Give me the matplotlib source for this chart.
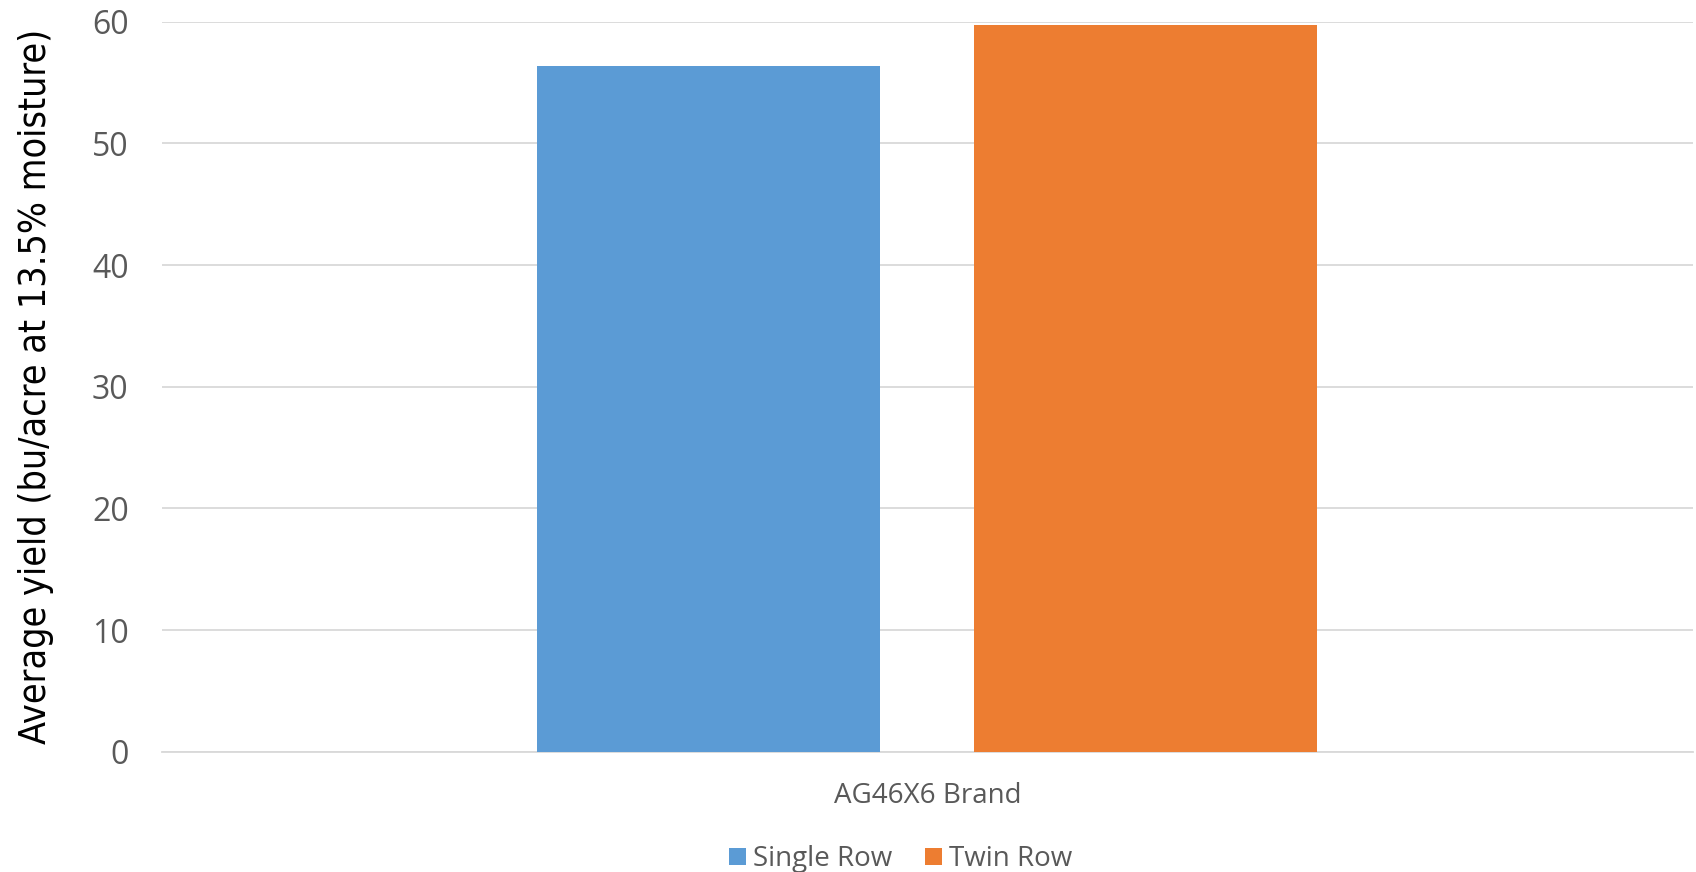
import matplotlib.pyplot as plt
import numpy as np

# yield data, one category with two planting patterns
categories = ["AG46X6 Brand"]
series_names = ["Single Row", "Twin Row"]
single_row = [56.4]
twin_row = [59.7]
colors = ["#5B9BD5", "#ED7D31"]

plt.rcParams['font.family'] = ['Open Sans', 'DejaVu Sans']

fig = plt.figure(figsize=(16.96, 8.72), dpi=100)
ax = fig.add_axes([0.0955, 0.138, 0.9025, 0.837])

x = np.arange(len(categories))
width = 0.224
offset = 0.1427
ax.bar(x - offset, single_row, width, color=colors[0], label=series_names[0], zorder=3)
ax.bar(x + offset, twin_row, width, color=colors[1], label=series_names[1], zorder=3)

ax.set_xlim(-0.5, 0.5)
ax.set_ylim(0, 60)
ax.set_yticks(range(0, 61, 10))
ax.yaxis.grid(True, color="#D9D9D9", linewidth=1.3, zorder=0)
for s in ["top", "right", "left"]:
    ax.spines[s].set_visible(False)
ax.spines["bottom"].set_color("#D9D9D9")
ax.spines["bottom"].set_linewidth(1.3)
ax.tick_params(axis="both", length=0)
ax.tick_params(axis="y", labelsize=23, labelcolor="#595959", pad=24)
ax.set_xticks(x)
ax.set_xticklabels(categories, fontsize=20, color="#595959")
ax.tick_params(axis="x", pad=22)

ax.set_ylabel("Average yield (bu/acre at 13.5% moisture)", fontsize=27,
              family=["DejaVu Sans"], fontstretch="condensed", labelpad=27)

leg = fig.legend(loc="lower center", ncol=2, frameon=False, fontsize=20,
                 bbox_to_anchor=(0.531, -0.03), handlelength=0.6, handleheight=0.6,
                 handletextpad=0.25, columnspacing=1.2)
for t in leg.get_texts():
    t.set_color("#595959")

fig.savefig("out.png", dpi=100)
